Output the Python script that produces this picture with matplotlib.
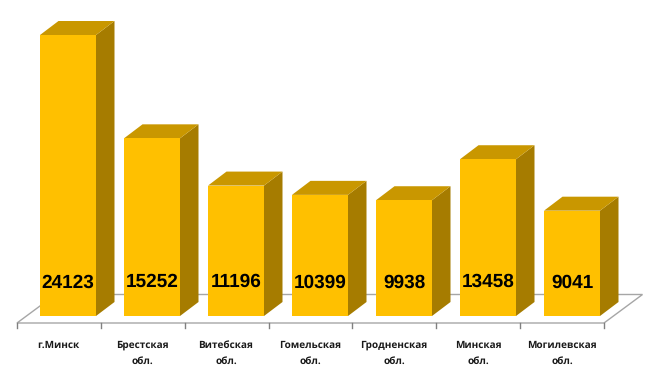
import matplotlib
matplotlib.use("Agg")
import matplotlib.pyplot as plt
from matplotlib.patches import Polygon

# Bar values, one per region
categories = ['г.Минск', 'Брестская\nобл.', 'Витебская\nобл.', 'Гомельская\nобл.',
              'Гродненская\nобл.', 'Минская\nобл.', 'Могилевская\nобл.']
values = [24123, 15252, 11196, 10399, 9938, 13458, 9041]

# Picture geometry, in pixels
W, H = 650, 381
STEP = 84.0  # distance between bars
X0 = 68.0  # centre of the first bar
Y0 = 316.0  # bottom of the bars
PX_PER_UNIT = 281.0 / 24123  # bar height scale
BAR_W = 56 / STEP
DX = 18.5 / STEP  # 3d depth of a bar
DY = 14 / PX_PER_UNIT

FRONT = '#FFC000'
SIDE = '#A67C00'
TOP = '#C99700'
EDGE = '#A6A6A6'

# Value labels sit at slightly different heights in the picture
LABEL_PX = [283, 281.5, 281.5, 282.5, 282.5, 281.5, 282.5]

# Unhinted glyphs keep the digits evenly spaced
plt.rcParams['text.hinting'] = 'no_hinting'
plt.rcParams['text.hinting_factor'] = 1


def floor_y(px):
    return (Y0 - px) / PX_PER_UNIT


def floor_x(px):
    return (px - X0) / STEP


fig = plt.figure(figsize=(W / 100, H / 100), dpi=100, facecolor='white')
ax = fig.add_axes([0, 0, 1, 1])
ax.set_xlim(floor_x(0), floor_x(W))
ax.set_ylim(floor_y(H), floor_y(0))
ax.axis('off')

# Floor of the 3d chart
ax.add_patch(Polygon([(floor_x(17), floor_y(323)), (floor_x(604), floor_y(323)),
                      (floor_x(642.5), floor_y(294.5)), (floor_x(55.5), floor_y(294.5))],
                     closed=True, facecolor='white', edgecolor=EDGE, linewidth=1, zorder=1))

# Tick marks under the floor
for i in range(len(values) + 1):
    x = floor_x(17 + 83.85 * i)
    ax.plot([x, x], [floor_y(323), floor_y(328)], color='#808080', linewidth=1, zorder=1)

# Bars, from the real values
for i, v in enumerate(values):
    l, r = i - BAR_W / 2, i + BAR_W / 2
    ax.add_patch(Polygon([(r, 0), (r + DX, DY), (r + DX, v + DY), (r, v)],
                         facecolor=SIDE, edgecolor='none', zorder=2))
    ax.add_patch(Polygon([(l, v), (r, v), (r + DX, v + DY), (l + DX, v + DY)],
                         facecolor=TOP, edgecolor='none', zorder=2))
    ax.bar(i, v, width=BAR_W, color=FRONT, zorder=3)
    ax.text(i, floor_y(LABEL_PX[i]), str(v), ha='center', va='center', fontsize=13.4,
            fontweight='bold', family='Liberation Sans', color='black', zorder=4)
    ax.text(i - 10 / STEP, floor_y(340.5), categories[i], ha='center', va='top', fontsize=7.4,
            fontweight='bold', family='Open Sans', color='#1a1a1a', linespacing=1.7, zorder=4)

fig.savefig('out.png', dpi=100, facecolor='white')
